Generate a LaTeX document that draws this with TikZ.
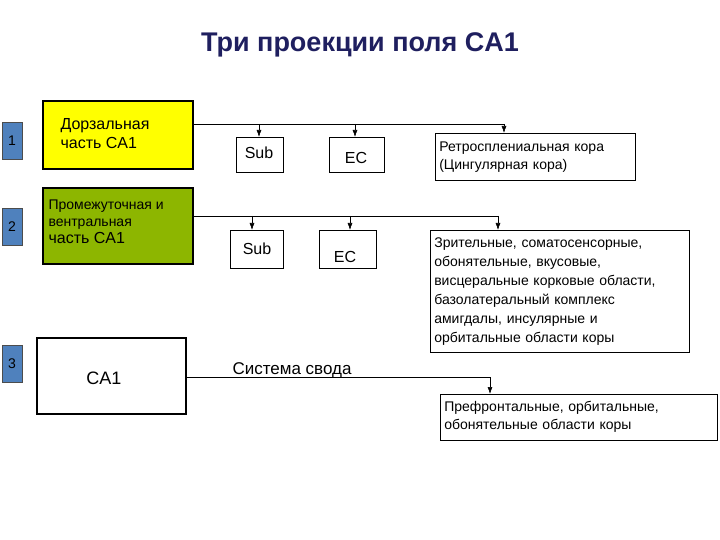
\documentclass[tikz,border=0pt]{standalone}
\usepackage{fontspec}
\setmainfont{Liberation Sans}
\usetikzlibrary{arrows.meta}
\definecolor{numblue}{HTML}{4F81BD}
\definecolor{ylw}{HTML}{FFFF00}
\definecolor{grn}{HTML}{8DB600}
\definecolor{ttl}{HTML}{1F1F5F}
\begin{document}
\begin{tikzpicture}[x=1pt,y=-1pt,
  num/.style={draw=black!70,fill=numblue,line width=0.8pt,minimum width=20pt,minimum height=37pt,font=\fontsize{14}{16}\selectfont},
  main/.style={draw=black,line width=1.8pt,minimum width=150pt,anchor=north west},
  tbox/.style={draw=black,line width=0.6pt,anchor=north west,align=left,inner sep=4pt},
  conn/.style={line width=0.6pt},
  arr/.style={line width=0.6pt,-{Latex[length=7pt,width=5pt]}}]
\useasboundingbox (0,0) rectangle (720,540);
\node[font=\fontsize{27}{30}\selectfont\bfseries,text=ttl] (title) at (360,45) {Три проекции поля CA1};
\node[num] (n1) at (12,141) {1};
\node[num] (n2) at (12,227) {2};
\node[num] (n3) at (12,364) {3};
\node[main,fill=ylw,minimum height=68pt] (b1) at (42,100) {};
\node[align=left,anchor=west,font=\fontsize{16}{19}\selectfont] (t1) at (57,134) {Дорзальная\\часть CA1};
\node[main,fill=grn,minimum height=76pt] (b2) at (42,187) {};
\node[align=left,anchor=west,font=\fontsize{14}{17}\selectfont] (t2) at (45,222) {Промежуточная и\\вентральная\\{\fontsize{16}{17}\selectfont часть CA1}};
\node[main,line width=1.5pt,minimum width=149pt,minimum height=76pt] (b3) at (36,337) {};
\node[font=\fontsize{18}{20}\selectfont] (t3) at (104,378) {CA1};
\node[tbox,minimum width=47pt,minimum height=35pt] (s1) at (236,137) {};
\node[font=\fontsize{16}{18}\selectfont] (s1t) at (259,153) {Sub};
\node[tbox,minimum width=55pt,minimum height=35pt] (e1) at (329,137) {};
\node[font=\fontsize{16}{18}\selectfont] (e1t) at (356,158) {EC};
\node[tbox,text width=192pt,minimum height=47pt,font=\fontsize{14}{18}\selectfont] (r1) at (435,133) {Ретросплениальная кора\\(Цингулярная кора)};
\node[tbox,minimum width=53pt,minimum height=38pt] (s2) at (230,230) {};
\node[font=\fontsize{16}{18}\selectfont] (s2t) at (257,249) {Sub};
\node[tbox,minimum width=57pt,minimum height=38pt] (e2) at (319,230) {};
\node[font=\fontsize{16}{18}\selectfont] (e2t) at (345,257) {EC};
\node[tbox,text width=251pt,minimum height=122pt,font=\fontsize{14}{19}\selectfont] (r2) at (430,230) {Зрительные, соматосенсорные,\\обонятельные, вкусовые,\\висцеральные корковые области,\\базолатеральный комплекс\\амигдалы, инсулярные и\\орбитальные области коры};
\node[tbox,text width=269pt,minimum height=46pt,font=\fontsize{14}{18}\selectfont] (r3) at (440,394) {Префронтальные, орбитальные,\\обонятельные области коры};
\node[font=\fontsize{17}{19}\selectfont,anchor=west] (lab) at (229,370) {Система свода};
\coordinate (j1) at (504,124);
\draw[conn] (b1.east|-j1) -- (j1);
\draw[arr] (259,124) -- (s1.north-|259,0);
\draw[arr] (355,124) -- (e1.north-|355,0);
\draw[arr] (j1) -- (r1.north-|j1);
\coordinate (j2) at (498,216);
\draw[conn] (b2.east|-j2) -- (j2);
\draw[arr] (252,216) -- (s2.north-|252,0);
\draw[arr] (350,216) -- (e2.north-|350,0);
\draw[arr] (j2) -- (r2.north-|j2);
\coordinate (j3) at (490,377);
\draw[conn] (b3.east|-j3) -- (j3);
\draw[arr] (j3) -- (r3.north-|j3);
\end{tikzpicture}
\end{document}
